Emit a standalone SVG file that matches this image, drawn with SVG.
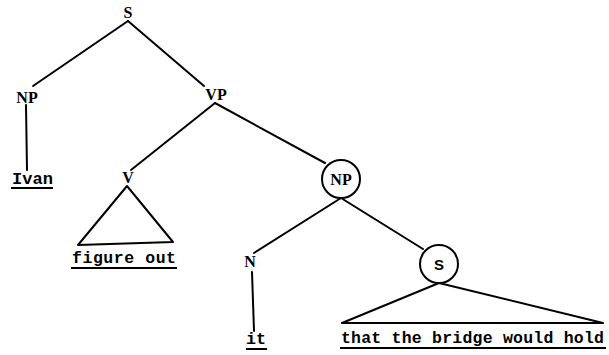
<svg xmlns="http://www.w3.org/2000/svg" width="609" height="355" viewBox="0 0 609 355">
<style>
.lbl{font-family:"Liberation Serif","Times New Roman",serif;font-size:16px;font-weight:bold;fill:#000;text-anchor:middle}
.sans{font-family:"Liberation Sans",Arial,sans-serif;font-size:15px;font-weight:bold;fill:#000;text-anchor:middle}
.word{font-family:"Liberation Mono","Courier New",monospace;font-size:16.5px;font-weight:bold;fill:#000}
.edge{stroke:#000;stroke-width:2;fill:none;stroke-linecap:round;stroke-linejoin:round}
.ul{stroke:#000;stroke-width:2}
.circ{stroke:#000;stroke-width:2;fill:#fff}
</style>
<rect width="609" height="355" fill="#fff"/>
<g id="connectors">
<line class="edge" x1="128" y1="21" x2="33" y2="86"/>
<line class="edge" x1="128" y1="21" x2="204" y2="86"/>
<line class="edge" x1="26" y1="105" x2="27" y2="170"/>
<line class="edge" x1="215" y1="103" x2="131" y2="170"/>
<line class="edge" x1="215" y1="103" x2="325" y2="163"/>
<line class="edge" x1="341" y1="198" x2="254" y2="253"/>
<line class="edge" x1="341" y1="198" x2="423" y2="249"/>
<line class="edge" x1="252" y1="272" x2="254" y2="331"/>
<polygon class="edge" points="127,186 78,245 173,242"/>
<polygon class="edge" points="439,283 342,323 603,323"/>
</g>
<g id="S"><text class="lbl" x="128" y="18">S</text></g>
<g id="NP1"><text class="lbl" x="27" y="103">NP</text></g>
<g id="VP"><text class="lbl" x="216" y="100">VP</text></g>
<g id="Ivan"><text class="word" x="12" y="184" textLength="41" lengthAdjust="spacingAndGlyphs">Ivan</text><line class="ul" x1="11" y1="188" x2="53" y2="188"/></g>
<g id="V"><text class="lbl" x="128" y="183">V</text></g>
<g id="figureout"><text class="word" x="72" y="263" textLength="104" lengthAdjust="spacing">figure out</text><line class="ul" x1="71" y1="268" x2="177" y2="268"/></g>
<g id="NP2"><circle class="circ" cx="341" cy="179" r="19"/><text class="lbl" x="341" y="185">NP</text></g>
<g id="N"><text class="lbl" x="250" y="267">N</text></g>
<g id="it"><text class="word" x="246" y="344" textLength="20" lengthAdjust="spacingAndGlyphs">it</text><line class="ul" x1="246" y1="349" x2="267" y2="349"/></g>
<g id="S2"><circle class="circ" cx="439" cy="264" r="19"/><text class="sans" x="439" y="270">S</text></g>
<g id="clause"><text class="word" x="341" y="343" textLength="263" lengthAdjust="spacing">that the bridge would hold</text><line class="ul" x1="340" y1="348" x2="606" y2="348"/></g>
</svg>
